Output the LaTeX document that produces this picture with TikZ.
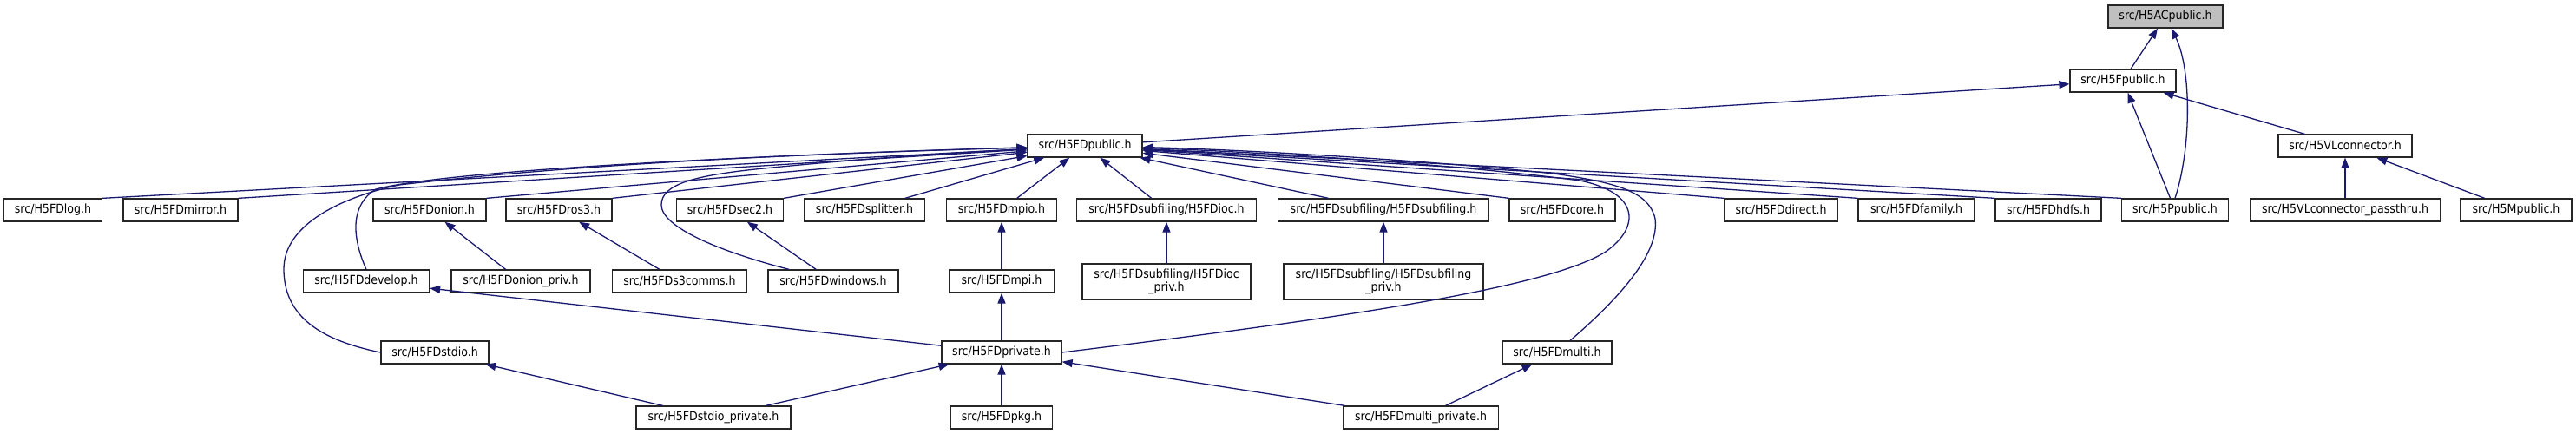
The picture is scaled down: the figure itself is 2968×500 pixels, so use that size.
\documentclass[tikz,border=0pt]{standalone}
\usepackage{fontspec}
\setmainfont{DejaVu Sans Condensed}
\usetikzlibrary{arrows.meta}
\definecolor{depblue}{HTML}{191970}
\definecolor{rootgray}{HTML}{BFBFBF}

\begin{document}
\begin{tikzpicture}[
    x=1pt, y=-1pt,
    file/.style = {draw=black!85, line width=1.3pt, fill=white, inner sep=0pt,
                   minimum height=26pt, font=\fontsize{14}{15}\selectfont},
    file2/.style = {file, minimum height=41pt, align=center},
    root/.style = {file, fill=rootgray},
    dep/.style = {draw=depblue, line width=1.3pt, -{Triangle[length=12pt, width=9pt]}}
]
    \useasboundingbox (0,0) rectangle (2968,500);

    % --- Haut du graphe ---
    \node[root, minimum width=132pt] (ac) at (2495,19) {src/H5ACpublic.h};
    \node[file, minimum width=122pt] (fpub) at (2446,93) {src/H5Fpublic.h};
    \node[file, minimum width=132pt] (fdpub) at (1250,168) {src/H5FDpublic.h};
    \node[file, minimum width=154pt] (vlconn) at (2702,168) {src/H5VLconnector.h};

    % --- Rangee 1 ---
    \node[file, minimum width=113pt] (log) at (61,242) {src/H5FDlog.h};
    \node[file, minimum width=132pt] (mirror) at (208,242) {src/H5FDmirror.h};
    \node[file, minimum width=130pt] (onion) at (495,242) {src/H5FDonion.h};
    \node[file, minimum width=122pt] (ros3) at (644,242) {src/H5FDros3.h};
    \node[file, minimum width=123pt] (sec2) at (841,242) {src/H5FDsec2.h};
    \node[file, minimum width=139pt] (splitter) at (996,242) {src/H5FDsplitter.h};
    \node[file, minimum width=127pt] (mpio) at (1154,242) {src/H5FDmpio.h};
    \node[file, minimum width=207pt] (ioc) at (1344,242) {src/H5FDsubfiling/H5FDioc.h};
    \node[file, minimum width=243pt] (subf) at (1594,242) {src/H5FDsubfiling/H5FDsubfiling.h};
    \node[file, minimum width=122pt] (core) at (1800,242) {src/H5FDcore.h};
    \node[file, minimum width=130pt] (direct) at (2052,242) {src/H5FDdirect.h};
    \node[file, minimum width=134pt] (family) at (2208,242) {src/H5FDfamily.h};
    \node[file, minimum width=122pt] (hdfs) at (2360,242) {src/H5FDhdfs.h};
    \node[file, minimum width=123pt] (ppub) at (2506,242) {src/H5Ppublic.h};
    \node[file, minimum width=219pt] (pass) at (2702,242) {src/H5VLconnector\_passthru.h};
    \node[file, minimum width=128pt] (mpub) at (2899,242) {src/H5Mpublic.h};

    % --- Rangee 2 ---
    \node[file, minimum width=145pt] (develop) at (422,324) {src/H5FDdevelop.h};
    \node[file, minimum width=160pt] (onionp) at (600,324) {src/H5FDonion\_priv.h};
    \node[file, minimum width=155pt] (s3comms) at (783,324) {src/H5FDs3comms.h};
    \node[file, minimum width=150pt] (windows) at (960,324) {src/H5FDwindows.h};
    \node[file, minimum width=121pt] (mpi) at (1154,324) {src/H5FDmpi.h};
    \node[file2, minimum width=194pt] (iocp) at (1344,324.5) {src/H5FDsubfiling/H5FDioc\\\_priv.h};
    \node[file2, minimum width=230pt] (subfp) at (1594,324.5) {src/H5FDsubfiling/H5FDsubfiling\\\_priv.h};

    % --- Rangee 3 et 4 ---
    \node[file, minimum width=124pt] (stdio) at (501,406) {src/H5FDstdio.h};
    \node[file, minimum width=138pt] (private) at (1154,406) {src/H5FDprivate.h};
    \node[file, minimum width=126pt] (multi) at (1794,406) {src/H5FDmulti.h};
    \node[file, minimum width=178pt] (stdiop) at (822,481) {src/H5FDstdio\_private.h};
    \node[file, minimum width=117pt] (pkg) at (1154,481) {src/H5FDpkg.h};
    \node[file, minimum width=179pt] (multip) at (1637,481) {src/H5FDmulti\_private.h};

    % --- Liens vers le haut ---
    \draw[dep] (fpub) -- (ac);
    \draw[dep] (ppub.north) .. controls (2525,170) and (2525,80) .. (ac);
    \draw[dep] (fdpub) -- (fpub);
    \draw[dep] (ppub) -- (fpub);
    \draw[dep] (vlconn) -- (fpub);
    \draw[dep] (pass) -- (vlconn);
    \draw[dep] (mpub) -- (vlconn);

    % --- Liens vers H5FDpublic ---
    \foreach \n in {log, mirror, onion, ros3, sec2}
        \draw[dep] (\n.north east) -- (fdpub);
    \foreach \n in {splitter, mpio, ioc, subf}
        \draw[dep] (\n) -- (fdpub);
    \foreach \n in {core, direct, family, hdfs, ppub}
        \draw[dep] (\n.north west) -- (fdpub);
    \draw[dep] (develop.north) .. controls (404,270) and (405,235) .. (433,218)
        .. controls (520,195) and (900,178) .. (fdpub);
    \draw[dep] (stdio.west) .. controls (370,392) and (327,365) .. (327,310)
        .. controls (327,260) and (390,228) .. (460,213)
        .. controls (700,185) and (1000,175) .. (fdpub);
    \draw[dep] (windows.165) .. controls (830,290) and (762,262) .. (762,236)
        .. controls (762,212) and (800,202) .. (880,194)
        .. controls (1000,182) and (1100,176) .. (fdpub);
    \draw[dep] (private.east) .. controls (1500,372) and (1780,335) .. (1850,290)
        .. controls (1890,262) and (1890,222) .. (1820,208)
        .. controls (1650,186) and (1420,174) .. (fdpub);
    \draw[dep] ([xshift=15pt]multi.north) .. controls (1870,340) and (1912,290) .. (1907,252)
        .. controls (1900,220) and (1860,210) .. (1790,200)
        .. controls (1640,184) and (1420,172) .. (fdpub);

    % --- Liens du bas ---
    \draw[dep] (onionp) -- (onion);
    \draw[dep] (s3comms) -- (ros3);
    \draw[dep] (windows) -- (sec2);
    \draw[dep] (mpi) -- (mpio);
    \draw[dep] (iocp) -- (ioc);
    \draw[dep] (subfp) -- (subf);
    \draw[dep] (private) -- (develop);
    \draw[dep] (private) -- (mpi);
    \draw[dep] (stdiop) -- (stdio);
    \draw[dep] (stdiop) -- (private);
    \draw[dep] (pkg) -- (private);
    \draw[dep] (multip) -- (private);
    \draw[dep] (multip) -- (multi);
\end{tikzpicture}
\end{document}
